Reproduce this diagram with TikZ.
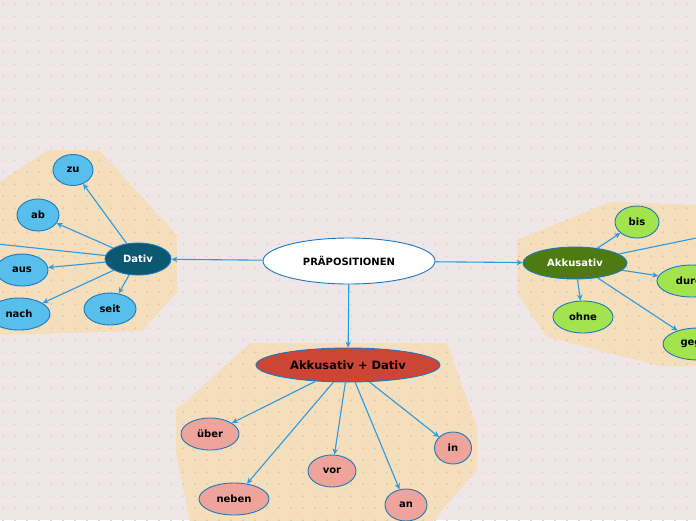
\documentclass[tikz,border=0pt]{standalone}
\usepackage{fontspec}
\setmainfont{DejaVu Sans}
\usetikzlibrary{shapes.geometric,arrows.meta}
\definecolor{bgc}{HTML}{EFE7E7}
\definecolor{dotc}{HTML}{E0D4D4}
\definecolor{tanc}{HTML}{F4DEBB}
\definecolor{edgec}{HTML}{2A9BE2}
\definecolor{bordc}{HTML}{1B78C0}
\definecolor{tealc}{HTML}{0B5870}
\definecolor{skyc}{HTML}{58BFEC}
\definecolor{dgreen}{HTML}{4E7A12}
\definecolor{lgreen}{HTML}{A2E34E}
\definecolor{redc}{HTML}{CC4535}
\definecolor{pinkc}{HTML}{EEA39B}
\tikzset{
  bub/.style={ellipse, draw=bordc, line width=0.9pt, inner sep=0pt, font=\bfseries\fontsize{10}{12}\selectfont, text=black},
  rootn/.style={bub, fill=white, minimum width=172pt, minimum height=46pt},
  datn/.style={bub, fill=tealc, text=white},
  akkn/.style={bub, fill=dgreen, text=white},
  bothn/.style={bub, fill=redc, font=\bfseries\fontsize{11.5}{13}\selectfont},
  blueleaf/.style={bub, fill=skyc},
  greenleaf/.style={bub, fill=lgreen},
  pinkleaf/.style={bub, fill=pinkc},
  conn/.style={draw=edgec, line width=1.1pt, -{Stealth[length=6pt,width=5.5pt]}},
}
\begin{document}
\begin{tikzpicture}[x=1pt,y=-1pt]
\fill[bgc] (0,0) rectangle (696,520);
\useasboundingbox (0,0) rectangle (696,520);
\foreach \i in {0,...,58}{
  \foreach \j in {0,...,43}{
    \draw[dotc, line width=0.6pt] (12*\i+3-1.3,12*\j+4) -- (12*\i+3+1.3,12*\j+4)
      (12*\i+3,12*\j+4-1.3) -- (12*\i+3,12*\j+4+1.3);
  }
}
% background areas
\fill[tanc] (-2,183) -- (48,150) -- (99,150) -- (177,235) -- (177,292) -- (142,331) -- (-2,335) -- cycle;
\fill[tanc] (517,240) -- (610,202) -- (700,205) -- (700,366) -- (660,366) -- (547,337) -- (517,293) -- cycle;
\fill[tanc] (250,343) -- (447,343) -- (477,427) -- (477,470) -- (432,522) -- (190,522) -- (176,453) -- (176,410) -- cycle;
% light dots over the tan areas
\begin{scope}
\clip (-2,183) -- (48,150) -- (99,150) -- (177,235) -- (177,292) -- (142,331) -- (-2,335) -- cycle
      (517,240) -- (610,202) -- (700,205) -- (700,366) -- (660,366) -- (547,337) -- (517,293) -- cycle
      (250,343) -- (447,343) -- (477,427) -- (477,470) -- (432,522) -- (190,522) -- (176,453) -- (176,410) -- cycle;
\foreach \i in {0,...,58}{
  \foreach \j in {12,...,43}{
    \draw[black!8!tanc, line width=0.6pt] (12*\i+3-1.3,12*\j+4) -- (12*\i+3+1.3,12*\j+4)
      (12*\i+3,12*\j+4-1.3) -- (12*\i+3,12*\j+4+1.3);
  }
}
\end{scope}
% nodes
\node[rootn] (root) at (349,261) {PRÄPOSITIONEN};
\node[datn, minimum width=66pt, minimum height=32pt] (dat) at (138,259) {Dativ};
\node[akkn, minimum width=104pt, minimum height=32pt] (akk) at (575,263) {Akkusativ};
\node[bothn, minimum width=184pt, minimum height=34pt] (both) at (348,365) {Akkusativ + Dativ};
% Dativ leaves
\node[blueleaf, minimum width=40pt, minimum height=31pt] (zu) at (73,170) {zu};
\node[blueleaf, minimum width=42pt, minimum height=32pt] (ab) at (38,215) {ab};
\node[blueleaf, minimum width=52pt, minimum height=32pt] (aus) at (22,270) {aus};
\node[blueleaf, minimum width=62pt, minimum height=32pt] (nach) at (19,314) {nach};
\node[blueleaf, minimum width=52pt, minimum height=32pt] (seit) at (110,309) {seit};
\coordinate (offL) at (-40,240);
% Akkusativ leaves
\node[greenleaf, minimum width=44pt, minimum height=32pt] (bis) at (637,222) {bis};
\node[greenleaf, minimum width=60pt, minimum height=32pt] (ohne) at (583,317) {ohne};
\node[greenleaf, minimum width=70pt, minimum height=32pt] (durch) at (692,281) {durch};
\node[greenleaf, minimum width=70pt, minimum height=32pt] (gegen) at (698,344) {gegen};
\coordinate (offR) at (740,229);
% Akkusativ + Dativ leaves
\node[pinkleaf, minimum width=58pt, minimum height=32pt] (ueber) at (210,434) {über};
\node[pinkleaf, minimum width=70pt, minimum height=32pt] (neben) at (234,499) {neben};
\node[pinkleaf, minimum width=48pt, minimum height=32pt] (vor) at (332,471) {vor};
\node[pinkleaf, minimum width=42pt, minimum height=32pt] (an) at (406,505) {an};
\node[pinkleaf, minimum width=37pt, minimum height=32pt] (in) at (453,448) {in};
% connectors
\draw[conn] (root) -- (dat);
\draw[conn] (root) -- (akk);
\draw[conn] (root) -- (both);
\draw[conn] (dat) -- (zu);
\draw[conn] (dat) -- (ab);
\draw[conn] (dat) -- (offL);
\draw[conn] (dat) -- (aus);
\draw[conn] (dat) -- (nach);
\draw[conn] (dat) -- (seit);
\draw[conn] (akk) -- (bis);
\draw[conn] (akk) -- (offR);
\draw[conn] (akk) -- (durch);
\draw[conn] (akk) -- (ohne);
\draw[conn] (akk) -- (gegen);
\draw[conn] (both) -- (ueber);
\draw[conn] (both) -- (neben);
\draw[conn] (both) -- (vor);
\draw[conn] (both) -- (an);
\draw[conn] (both) -- (in);
\end{tikzpicture}
\end{document}
